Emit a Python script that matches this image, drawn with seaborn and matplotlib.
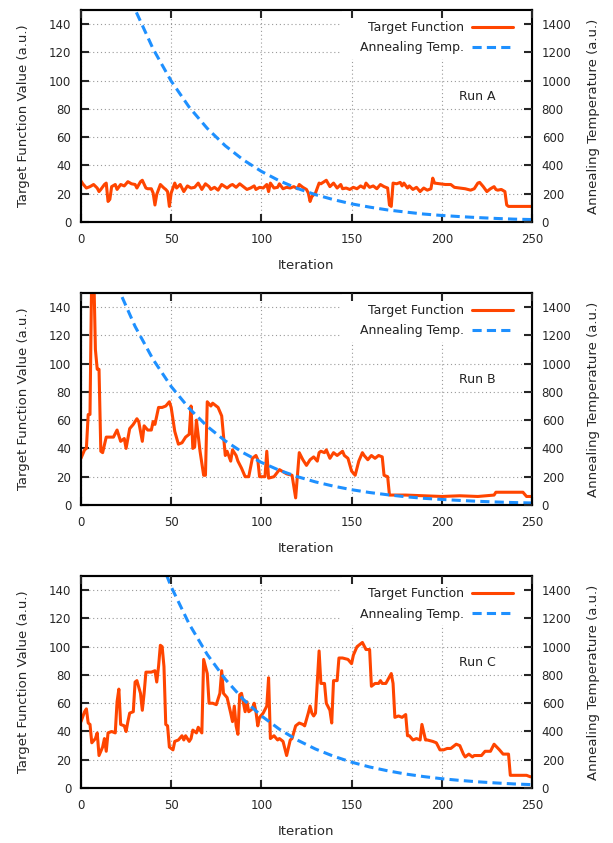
import matplotlib
matplotlib.use('Agg')
import matplotlib.pyplot as plt
from matplotlib.patches import Rectangle
import seaborn as sns

# Run A: target function
run_a_iter = [0, 1, 3, 5, 7, 9, 10, 11, 13, 14,
              15, 16, 17, 19, 20, 22, 24, 26, 28, 30,
              31, 33, 34, 36, 37, 39, 40, 41, 42, 44,
              46, 47, 48, 49, 50, 52, 53, 55, 57, 59,
              61, 63, 65, 67, 69, 71, 72, 74, 76, 78,
              81, 83, 84, 86, 88, 90, 92, 94, 96, 97,
              99, 101, 103, 104, 105, 107, 109, 110, 112, 114,
              116, 118, 120, 121, 123, 125, 126, 127, 128, 130,
              132, 133, 136, 138, 140, 142, 144, 145, 147, 149,
              151, 153, 155, 157, 158, 160, 162, 164, 166, 168,
              170, 171, 172, 173, 175, 177, 178, 179, 181, 182,
              184, 186, 188, 190, 192, 194, 195, 196, 199, 202,
              205, 207, 210, 213, 216, 218, 220, 221, 223, 225,
              227, 229, 230, 231, 233, 235, 236, 237, 250]
run_a_val = [29, 27, 24, 25, 26.5, 24, 21.5, 23, 26.5, 27.5,
             14.5, 16, 25, 26.5, 23, 26.5, 25.5, 28.5, 27, 26.5,
             24, 28.5, 29.5, 24, 23.5, 23.5, 20.5, 12, 19.5, 26.5,
             24, 23, 21.5, 11, 20.5, 27.5, 24, 26.5, 21.5, 25.5,
             24, 24.5, 27.5, 23, 27, 25, 23, 24.5, 22.5, 26.5,
             24, 26, 26.5, 24.5, 27, 25, 23, 24, 25.5, 23,
             24.5, 24, 26.5, 21.5, 27.5, 24, 24.5, 27, 23.5, 24.5,
             24, 25, 23.5, 26.5, 24.5, 23, 20.5, 14.5, 18, 20.5,
             27.5, 27, 29.5, 25, 27.5, 24, 26.5, 23.5, 24, 23,
             24.5, 23.5, 25.5, 24, 27.5, 24.5, 25.5, 23.5, 26.5, 25,
             24, 12, 11, 27.5, 27, 28, 25.5, 27.5, 24, 25.5,
             23, 24.5, 21.5, 24, 22.5, 23.5, 31, 27.5, 27, 26.5,
             26.5, 24.5, 24, 23.5, 22.5, 23.5, 27.5, 28, 25, 21.5,
             23.5, 25, 23, 22.5, 23, 21.5, 12, 11, 11]

# Run B
run_b_iter = [0, 2, 3, 4, 5, 6, 7, 8, 9, 10,
              11, 12, 14, 16, 18, 20, 22, 24, 25, 27,
              29, 31, 32, 34, 35, 37, 39, 40, 41, 43,
              45, 47, 49, 50, 52, 54, 56, 58, 60, 61,
              62, 63, 64, 66, 68, 69, 70, 72, 73, 76,
              78, 80, 81, 83, 84, 86, 87, 89, 91, 93,
              95, 97, 98, 99, 102, 103, 104, 107, 110, 114,
              117, 119, 121, 123, 125, 127, 129, 131, 132, 133,
              135, 136, 138, 140, 142, 144, 145, 146, 148, 150,
              152, 154, 156, 157, 159, 161, 163, 165, 167, 168,
              170, 171, 180, 190, 200, 210, 220, 229, 230, 245,
              247, 250]
run_b_val = [33, 39, 40, 64, 64, 170, 170, 110, 96, 96,
             38, 37, 48, 48, 48, 53, 45, 47, 40, 54,
             57, 61, 59, 45, 56, 53, 53, 59, 57, 69,
             69, 70, 73, 69, 52, 43, 44, 48, 50, 70,
             40, 41, 60, 38, 21, 21, 73, 70, 72, 69,
             63, 35, 38, 31, 39, 35, 31, 26, 20, 20,
             33, 35, 32, 20, 20, 38, 19, 20, 25, 22,
             21, 5, 37, 32, 28, 32, 34, 31, 37, 38,
             37, 39, 33, 37, 35, 37, 38, 35, 33, 24,
             21, 31, 37, 35, 32, 35, 33, 35, 34, 21,
             20, 7, 7, 6.5, 6, 6.5, 6, 7, 9, 9,
             6, 6]

# Run C
run_c_iter = [0, 2, 3, 4, 5, 6, 8, 9, 10, 12,
              13, 14, 15, 17, 19, 20, 21, 22, 24, 25,
              26, 27, 29, 30, 31, 33, 34, 35, 36, 39,
              41, 42, 43, 44, 45, 46, 47, 48, 49, 51,
              52, 54, 56, 57, 58, 60, 61, 62, 64, 65,
              67, 68, 70, 71, 73, 75, 77, 78, 79, 81,
              83, 84, 85, 86, 87, 88, 89, 91, 92, 93,
              95, 96, 97, 98, 99, 101, 103, 104, 105, 107,
              109, 110, 112, 114, 116, 117, 119, 121, 123, 124,
              126, 127, 128, 129, 130, 132, 133, 135, 136, 138,
              139, 140, 142, 143, 145, 148, 150, 151, 153, 154,
              156, 158, 160, 161, 163, 165, 166, 167, 169, 172,
              173, 174, 176, 178, 180, 181, 182, 184, 186, 188,
              189, 191, 192, 195, 197, 199, 201, 203, 205, 208,
              210, 212, 213, 215, 217, 218, 222, 224, 227, 229,
              232, 234, 237, 238, 247, 249, 250]
run_c_val = [47, 54, 56, 46, 45, 32, 35, 39, 23, 29,
             35, 26, 39, 40, 39, 61, 70, 45, 44, 40,
             47, 53, 54, 75, 76, 67, 55, 67, 82, 82,
             83, 75, 86, 101, 100, 86, 45, 44, 29, 27,
             33, 34, 37, 34, 37, 33, 35, 41, 39, 43,
             39, 91, 81, 60, 60, 59, 67, 83, 67, 64,
             53, 47, 58, 44, 38, 66, 67, 54, 61, 54,
             56, 60, 54, 44, 50, 53, 58, 78, 35, 37,
             34, 35, 33, 23, 34, 35, 44, 46, 45, 44,
             53, 58, 53, 51, 53, 97, 74, 74, 60, 55,
             46, 76, 76, 92, 92, 91, 88, 94, 100, 101,
             103, 98, 98, 72, 74, 74, 76, 74, 74, 81,
             74, 50, 51, 50, 52, 37, 37, 34, 35, 34,
             45, 34, 34, 33, 32, 27, 27, 28, 28, 31,
             30, 24, 22, 24, 22, 23, 23, 26, 26, 31,
             27, 24, 24, 9, 9, 8, 8]

# Annealing temperature, read every 10 iterations
temp_iter = [0, 10, 20, 30, 40, 50, 60, 70, 80, 90, 100, 110, 120,
             130, 140, 150, 160, 170, 180, 190, 200, 210, 220, 230, 240, 250]
temp_a = [2780, 2265, 1845, 1503, 1224, 997, 812, 662, 539, 439, 358, 291, 237,
          193, 158, 128, 105, 85, 70, 56, 46, 38, 31, 25, 20, 17]
temp_b = [2337, 1904, 1551, 1263, 1029, 838, 683, 556, 453, 369, 301, 245, 200,
          163, 133, 108, 88, 72, 58, 47, 39, 32, 26, 21, 17, 14]
temp_c = [3970, 3234, 2635, 2146, 1748, 1424, 1160, 945, 770, 627, 511, 416, 339,
          276, 225, 183, 149, 122, 99, 81, 66, 54, 44, 36, 29, 24]

runs = [('Run A', run_a_iter, run_a_val, temp_a),
        ('Run B', run_b_iter, run_b_val, temp_b),
        ('Run C', run_c_iter, run_c_val, temp_c)]

x_ticks = [0, 50, 100, 150, 200, 250]
y_ticks = [0, 20, 40, 60, 80, 100, 120, 140]
y2_ticks = [0, 200, 400, 600, 800, 1000, 1200, 1400]

RED = '#ff4500'
BLUE = '#1e90ff'


def draw_panel(ax, name, iters, values, temps):
    sns.lineplot(x=iters, y=values, ax=ax, color=RED, linewidth=2.2,
                 estimator=None, legend=False)
    ax2 = ax.twinx()
    sns.lineplot(x=temp_iter, y=temps, ax=ax2, color=BLUE, linewidth=2.2,
                 estimator=None, legend=False)
    ax2.lines[0].set_dashes((3, 1.7))

    ax.set_xlim(0, 250)
    ax.set_ylim(0, 150)
    ax2.set_ylim(0, 1500)
    ax.set_xticks(x_ticks)
    ax.set_yticks(y_ticks)
    ax2.set_yticks(y2_ticks)

    ax.grid(True, linestyle=(0, (1, 2.5)), color='#9a9a9a', linewidth=0.8)
    ax.set_axisbelow(True)
    ax2.set_axisbelow(False)

    # white key box hides the grid behind the legend (gnuplot style)
    ax2.add_patch(Rectangle((0.579, 0.77), 0.421, 0.23, transform=ax2.transAxes,
                            facecolor='white', edgecolor='none', zorder=0.6))

    ax.tick_params(axis='x', direction='in', top=False, bottom=True,
                   length=5.5, width=1.5, pad=8, labelsize=8.5)
    ax.tick_params(axis='y', direction='in', left=True, right=False,
                   length=5.5, width=1.5, pad=7, labelsize=8.5)
    ax2.xaxis.set_visible(True)
    ax2.tick_params(axis='x', direction='in', top=True, bottom=False,
                    labeltop=False, labelbottom=False, length=5.5, width=1.5)
    ax2.tick_params(axis='y', direction='in', right=True, left=False,
                    length=5.5, width=1.5, pad=7, labelsize=8.5)
    for a in (ax, ax2):
        for sp in a.spines.values():
            sp.set_linewidth(1.5)
            sp.set_color('black')

    ax.set_xlabel('Iteration', fontsize=9.5)
    ax.xaxis.set_label_coords(0.5, -0.175)
    ax.set_ylabel('Target Function Value (a.u.)', fontsize=9.5)
    ax.yaxis.set_label_coords(-0.112, 0.5)
    ax2.set_xlabel('')
    ax2.set_ylabel('Annealing Temperature (a.u.)', fontsize=9.5)
    ax2.yaxis.set_label_coords(1.122, 0.5)

    ax2.legend([ax.lines[0], ax2.lines[0]], ['Target Function', 'Annealing Temp.'],
               loc='upper right', bbox_to_anchor=(0.969, 0.97), markerfirst=False,
               frameon=False, borderpad=0.4, borderaxespad=0,
               handlelength=3.25, handletextpad=0.7, labelspacing=0.57, fontsize=9)
    ax2.text(0.879, 0.594, name, transform=ax2.transAxes, ha='center',
             va='center', fontsize=9)


def main():
    sns.set_theme(style='ticks')
    plt.rcParams['font.family'] = ['DejaVu Sans']
    plt.rcParams['text.color'] = '#222222'

    fig = plt.figure(figsize=(6.13, 8.43), dpi=100)
    bottoms = [0.7367, 0.401, 0.0652]
    for (name, iters, values, temps), b in zip(runs, bottoms):
        ax = fig.add_axes([0.1321, b, 0.7357, 0.2515])
        draw_panel(ax, name, iters, values, temps)

    fig.savefig('out.png', dpi=100)


if __name__ == "__main__":
    main()
